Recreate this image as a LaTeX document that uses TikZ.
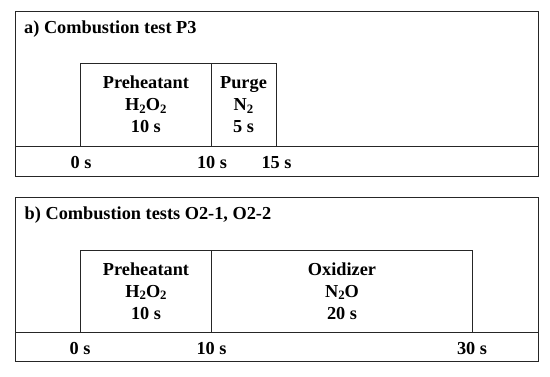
\documentclass[tikz,border=0pt]{standalone}
\usepackage{fontspec}
\setmainfont{Liberation Serif}
\newcommand\mysub[1]{\raisebox{-0.32ex}{\fontsize{12.8}{12.8}\selectfont #1}}
\begin{document}
\begin{tikzpicture}[x=1pt,y=-1pt,
  frame/.style={draw=black!85, line width=0.9pt},
  txt/.style={font=\fontsize{18.3}{22}\selectfont\bfseries, inner sep=0pt, align=center},
  phase/.style={txt, draw=black!85, line width=0.9pt, rectangle, outer sep=0pt}]
\useasboundingbox (0,0) rectangle (550,377);
% panel a
\draw[frame] (15,11) rectangle (538,176);
\coordinate (aL) at (15,146);
\coordinate (aR) at (538,146);
\draw[frame] (aL) -- (aR);
\node[txt, anchor=base west] (ta) at (24,33.3) {a) Combustion test P3};
\node[phase, minimum width=130.3, minimum height=82.7] (pa1) at (145.85,104.65) {Preheatant\\H\mysub{2}O\mysub{2}\\10 s};
\node[phase, minimum width=65, minimum height=82.7] (pa2) at (243.5,104.65) {Purge\\N\mysub{2}\\5 s};
\node[txt, anchor=base] (a0) at (81,168.5) {0 s};
\node[txt, anchor=base] (a10) at (212,168.5) {10 s};
\node[txt, anchor=base] (a15) at (276.5,168.5) {15 s};
% panel b
\draw[frame] (15,197) rectangle (538,361);
\coordinate (bL) at (15,332);
\coordinate (bR) at (538,332);
\draw[frame] (bL) -- (bR);
\node[txt, anchor=base west] (tb) at (24.5,220) {b) Combustion tests O2-1, O2-2};
\node[phase, minimum width=130.6, minimum height=82] (pb1) at (146,291) {Preheatant\\H\mysub{2}O\mysub{2}\\10 s};
\node[phase, minimum width=261.4, minimum height=82] (pb2) at (342,291) {Oxidizer\\N\mysub{2}O\\20 s};
\node[txt, anchor=base] (b0) at (80,354.5) {0 s};
\node[txt, anchor=base] (b10) at (211.5,354.5) {10 s};
\node[txt, anchor=base] (b30) at (472,354.5) {30 s};
\end{tikzpicture}
\end{document}
